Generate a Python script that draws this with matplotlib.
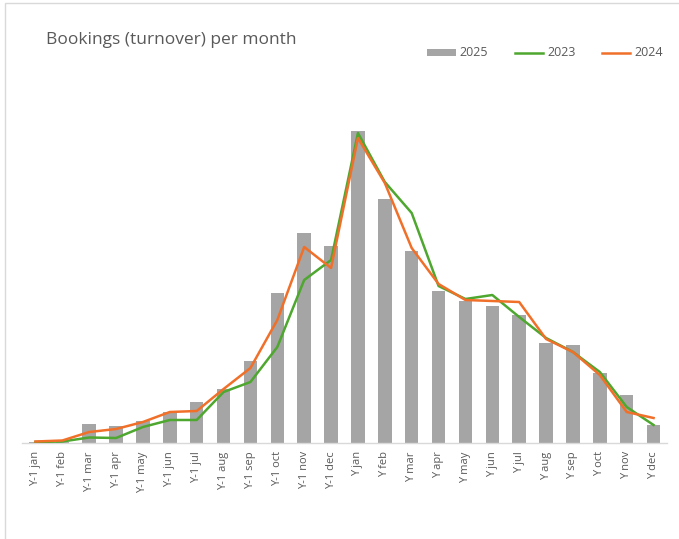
import numpy as np
import matplotlib
matplotlib.use("Agg")
import matplotlib.pyplot as plt
from matplotlib.patches import Rectangle

# ---------------------------------------------------------
# DATA
# ---------------------------------------------------------

months = ["jan", "feb", "mar", "apr", "may", "jun",
          "jul", "aug", "sep", "oct", "nov", "dec"]
categories = [f"Y-1 {m}" for m in months] + [f"Y {m}" for m in months]

bookings_2025 = [1.5, 1, 19, 17, 22, 31, 41, 54, 82, 150, 210, 197,
                 312, 244, 192, 152, 142, 137, 128, 100, 98, 70, 48, 18]
bookings_2023 = [1, 1.5, 5.5, 5, 16, 23, 23, 51, 61, 96, 163, 183,
                 310, 261, 230, 157, 144, 148, 126, 105, 91, 71, 36, 18]
bookings_2024 = [1.5, 2.5, 11, 14, 21, 31, 32, 54, 75, 123, 196, 175,
                 305, 260, 195, 159, 143, 142, 141, 104, 91, 68, 31, 25]

# ---------------------------------------------------------
# PLOT
# ---------------------------------------------------------

plt.rcParams["font.family"] = ["Open Sans", "DejaVu Sans"]
text_grey = "#595959"

fig = plt.figure(figsize=(6.79, 5.39), dpi=100)
ax = fig.add_axes([22 / 679, 96 / 539, 645 / 679, 330 / 539])

x = np.arange(len(categories))
bars = ax.bar(x, bookings_2025, width=0.5, color="#a5a5a5", label="2025", zorder=2)
l23, = ax.plot(x, bookings_2023, color="#4ea72e", lw=1.8, label="2023", zorder=3)
l24, = ax.plot(x, bookings_2024, color="#f0702a", lw=1.8, label="2024", zorder=4)

ax.set_xlim(-0.5, len(categories) - 0.5)
ax.set_ylim(0, 330)
ax.set_xticks(x)
ax.set_xticklabels(categories, rotation=90, fontsize=8, color=text_grey)
ax.tick_params(axis="x", length=0, pad=6)
ax.set_yticks([])
for side in ["top", "right", "left"]:
    ax.spines[side].set_visible(False)
ax.spines["bottom"].set_color("#d9d9d9")
ax.spines["bottom"].set_linewidth(1)

fig.text(46 / 679, 1 - 40 / 539, "Bookings (turnover) per month",
         fontsize=12.5, color=text_grey, va="center", ha="left")

leg = fig.legend([bars, l23, l24], ["2025", "2023", "2024"],
                 loc="center", bbox_to_anchor=(545 / 679, 1 - 53 / 539),
                 ncol=3, frameon=False, fontsize=9, handlelength=2.3,
                 handleheight=0.5, handletextpad=0.3, columnspacing=2.1)
for t in leg.get_texts():
    t.set_color(text_grey)

# light chart border (top and left edges visible in the crop)
fig.patches.append(Rectangle((5 / 679, -0.1), 1.2, 1 - 3 / 539 + 0.1,
                             transform=fig.transFigure, fill=False,
                             edgecolor="#d9d9d9", lw=1))

plt.savefig("out.png", dpi=100)
plt.close()
